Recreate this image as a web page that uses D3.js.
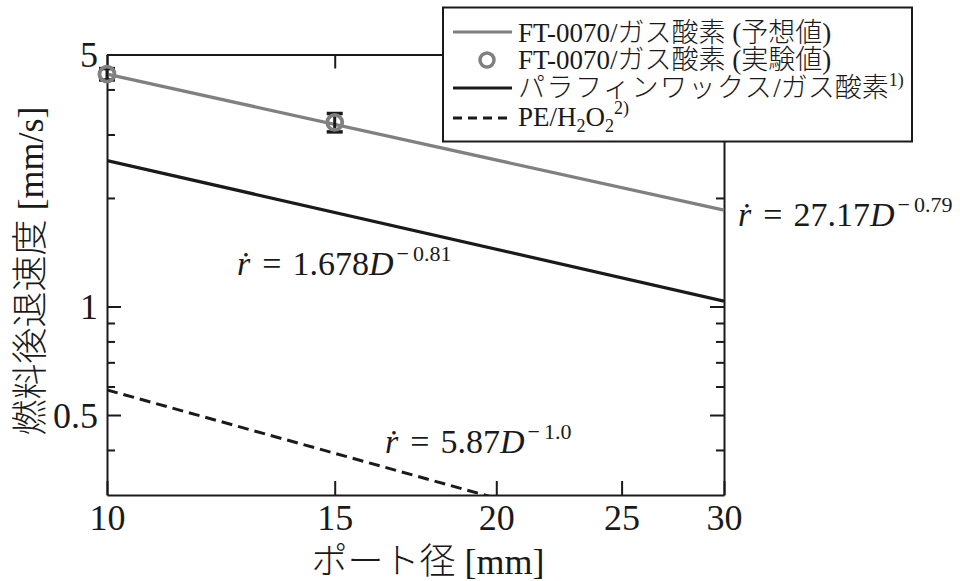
<!DOCTYPE html>
<html>
<head>
<meta charset="utf-8">
<script src="https://cdn.jsdelivr.net/npm/d3@7/dist/d3.min.js"></script>
<style>
  html, body { margin: 0; padding: 0; background: #fff; }
  svg { display: block; }
  text { font-family: "Liberation Serif", "Noto Sans CJK JP", serif; font-weight: 300; fill: #1a1a1a; }
</style>
</head>
<body>
<svg id="chart" width="960" height="581"></svg>
<script>
// Port diameter [mm] at the ends of each correlation line
const lineDiameters = [10, 30];
// Regression rate [mm/s] of each correlation at those diameters
const predictedRate = [4.41, 1.85];   // FT-0070 / gaseous O2, r = 27.17 D^-0.79
const paraffinRate  = [2.54, 1.035];  // paraffin wax / gaseous O2
const peRate        = [0.587, 0.196]; // PE / H2O2, r = 5.87 D^-1.0

// Measured FT-0070 points with error range
const expDiameter = [10, 15];
const expRate     = [4.41, 3.24];
const expLow      = [4.25, 3.05];
const expHigh     = [4.57, 3.43];

// Axis ticks
const xTicks = [10, 15, 20, 25, 30];
const yMajorTicks = [0.5, 1, 5];
const yMinorTicks = [0.4, 0.6, 0.7, 0.8, 0.9, 2, 3, 4];

const GRAY = "#808080";
const INK = "#1a1a1a";
const FONT = '"Liberation Serif", "Noto Sans CJK JP", serif';

const svg = d3.select("#chart");
const L = 107, R = 724, T = 54.5, B = 495;

const x = d3.scaleLog().domain([10, 30]).range([L, R]);
const y = d3.scaleLog().domain([0.3, 5]).range([B, T]);

svg.append("defs").append("clipPath").attr("id", "plot")
  .append("rect").attr("x", L).attr("y", T).attr("width", R - L).attr("height", B - T);

// Frame axes with inward ticks
function styleAxis(g) {
  g.attr("font-family", FONT);
  g.select(".domain").attr("stroke", INK).attr("stroke-width", 2);
  g.selectAll(".tick line").attr("stroke", INK).attr("stroke-width", 2);
}

const xBottom = svg.append("g").attr("transform", `translate(0,${B})`)
  .call(d3.axisBottom(x).tickValues(xTicks).tickFormat(d3.format("d"))
    .tickSizeInner(-14).tickSizeOuter(0).tickPadding(0));
styleAxis(xBottom);
xBottom.selectAll(".tick text")
  .attr("y", 35).attr("dy", null)
  .attr("font-size", 36).attr("fill", INK);

const xTop = svg.append("g").attr("transform", `translate(0,${T})`)
  .call(d3.axisTop(x).tickValues(xTicks).tickFormat("").tickSizeInner(-14).tickSizeOuter(0));
styleAxis(xTop);

const yLeft = svg.append("g").attr("transform", `translate(${L},0)`)
  .call(d3.axisLeft(y).tickValues(yMajorTicks).tickFormat(d => String(d))
    .tickSizeInner(-14).tickSizeOuter(0).tickPadding(9));
styleAxis(yLeft);
yLeft.selectAll(".tick text")
  .attr("dy", "0.34em").attr("font-size", 36).attr("fill", INK);

const yLeftMinor = svg.append("g").attr("transform", `translate(${L},0)`)
  .call(d3.axisLeft(y).tickValues(yMinorTicks).tickFormat("").tickSizeInner(-8).tickSizeOuter(0));
styleAxis(yLeftMinor);
yLeftMinor.select(".domain").remove();

const yRight = svg.append("g").attr("transform", `translate(${R},0)`)
  .call(d3.axisRight(y).tickValues(yMajorTicks).tickFormat("").tickSizeInner(-14).tickSizeOuter(0));
styleAxis(yRight);
const yRightMinor = svg.append("g").attr("transform", `translate(${R},0)`)
  .call(d3.axisRight(y).tickValues(yMinorTicks).tickFormat("").tickSizeInner(-8).tickSizeOuter(0));
styleAxis(yRightMinor);
yRightMinor.select(".domain").remove();

// Correlation lines
const line = d3.line().x(d => x(d[0])).y(d => y(d[1]));
const plot = svg.append("g").attr("clip-path", "url(#plot)");

plot.append("path")
  .attr("d", line(d3.zip(lineDiameters, peRate)))
  .attr("fill", "none").attr("stroke", INK).attr("stroke-width", 3)
  .attr("stroke-dasharray", "11,6");

plot.append("path")
  .attr("d", line(d3.zip(lineDiameters, paraffinRate)))
  .attr("fill", "none").attr("stroke", INK).attr("stroke-width", 3.2);

svg.append("path")
  .attr("d", line(d3.zip(lineDiameters, predictedRate)))
  .attr("fill", "none").attr("stroke", GRAY).attr("stroke-width", 3.2);

// Measured points: error bars then circles
const pts = d3.range(expDiameter.length).map(i => ({
  d: expDiameter[i], r: expRate[i], lo: expLow[i], hi: expHigh[i]
}));
const eb = svg.append("g");
pts.forEach(p => {
  const cx = x(p.d);
  eb.append("line").attr("x1", cx).attr("x2", cx).attr("y1", y(p.lo)).attr("y2", y(p.hi))
    .attr("stroke", INK).attr("stroke-width", 3);
  [p.lo, p.hi].forEach(v => {
    eb.append("line").attr("x1", cx - 8).attr("x2", cx + 8).attr("y1", y(v)).attr("y2", y(v))
      .attr("stroke", INK).attr("stroke-width", 3.5);
  });
});
svg.append("g").selectAll("circle").data(pts).join("circle")
  .attr("cx", p => x(p.d)).attr("cy", p => y(p.r)).attr("r", 7.5)
  .attr("fill", "none").attr("stroke", GRAY).attr("stroke-width", 3.8);

// Correlation labels: r-dot = coef * D^(-expo)
function eqLabel(px, py, coef, expo) {
  const t = svg.append("text").attr("x", px).attr("y", py).attr("font-size", 34)
    .attr("font-family", '"Liberation Serif", serif');
  t.append("tspan").attr("font-style", "italic").text("ṙ");
  t.append("tspan").attr("dx", 12).text("=");
  t.append("tspan").attr("dx", 11).text(coef);
  t.append("tspan").attr("font-style", "italic").text("D");
  t.append("tspan").attr("dx", 3).attr("dy", -14).attr("font-size", 22).text("−");
  t.append("tspan").attr("dx", 4).attr("font-size", 22).text(expo);
}
eqLabel(738, 226, "27.17", "0.79");
eqLabel(237, 275, "1.678", "0.81");
eqLabel(385, 453, "5.87", "1.0");

// Axis titles
svg.append("text").attr("x", 428).attr("y", 574).attr("text-anchor", "middle")
  .attr("font-size", 36).text("ポート径 [mm]");
svg.append("text").attr("transform", "translate(43,271) rotate(-90)")
  .attr("text-anchor", "middle").attr("font-size", 36).text("燃料後退速度 [mm/s]");

// Legend
const lg = svg.append("g");
lg.append("rect").attr("x", 443).attr("y", 7.5).attr("width", 469).attr("height", 134)
  .attr("fill", "#fff").attr("stroke", INK).attr("stroke-width", 2);
const lx0 = 453, lx1 = 512, tx = 518;
const rows = [42, 68.5, 97, 126];
lg.append("line").attr("x1", lx0).attr("x2", lx1).attr("y1", rows[0] - 10).attr("y2", rows[0] - 10)
  .attr("stroke", GRAY).attr("stroke-width", 3.2);
lg.append("circle").attr("cx", 487).attr("cy", rows[1] - 8.5).attr("r", 7)
  .attr("fill", "none").attr("stroke", GRAY).attr("stroke-width", 3.5);
lg.append("line").attr("x1", lx0).attr("x2", lx1).attr("y1", rows[2] - 9).attr("y2", rows[2] - 9)
  .attr("stroke", INK).attr("stroke-width", 3.2);
lg.append("line").attr("x1", lx0).attr("x2", lx1).attr("y1", rows[3] - 8).attr("y2", rows[3] - 8)
  .attr("stroke", INK).attr("stroke-width", 3).attr("stroke-dasharray", "9,6");

lg.append("text").attr("x", tx).attr("y", rows[0]).attr("font-size", 27).text("FT-0070/ガス酸素 (予想値)");
lg.append("text").attr("x", tx).attr("y", rows[1]).attr("font-size", 27).text("FT-0070/ガス酸素 (実験値)");
const t3 = lg.append("text").attr("x", tx).attr("y", rows[2]).attr("font-size", 27);
t3.append("tspan").attr("letter-spacing", 1.5).text("パラフィンワックス");
t3.append("tspan").text("/ガス酸素");
t3.append("tspan").attr("dy", -11).attr("font-size", 18).text("1)");
const t4 = lg.append("text").attr("x", tx).attr("y", rows[3]).attr("font-size", 27);
t4.append("tspan").text("PE/H");
t4.append("tspan").attr("dy", 6).attr("font-size", 18).text("2");
t4.append("tspan").attr("dy", -6).text("O");
t4.append("tspan").attr("dy", 6).attr("font-size", 18).text("2");
t4.append("tspan").attr("dy", -18).attr("font-size", 18).text("2)");
</script>
</body>
</html>
